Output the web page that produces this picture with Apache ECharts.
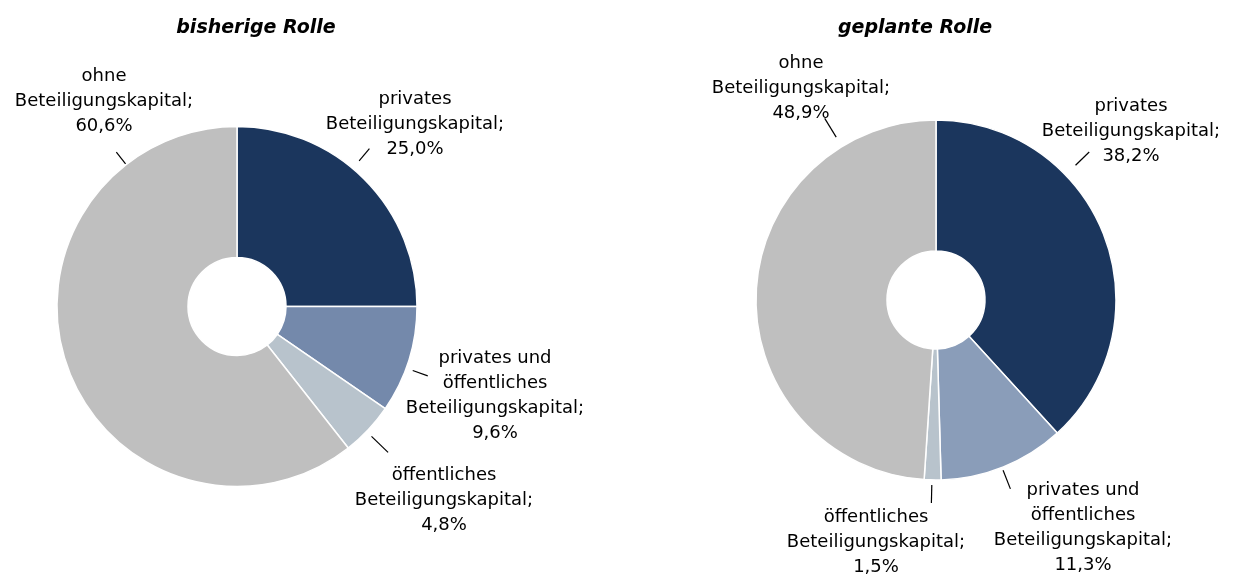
<!DOCTYPE html>
<html>
<head>
<meta charset="utf-8">
<script src="https://cdn.jsdelivr.net/npm/echarts@6/dist/echarts.min.js"></script>
<style>
  html, body { margin: 0; padding: 0; background: #fff; }
  #chart { width: 1236px; height: 576px; }
</style>
</head>
<body>
<div id="chart"></div>
<script>
// categories (same order in both rings, clockwise from 12 o'clock)
var categories = [
	'privates\nBeteiligungskapital',
	'privates und\nöffentliches\nBeteiligungskapital',
	'öffentliches\nBeteiligungskapital',
	'ohne\nBeteiligungskapital'
];
var bisherigeValues = [25.0, 9.6, 4.8, 60.6];
var geplanteValues = [38.2, 11.3, 1.5, 48.9];

var leftColors = ['#1b365d', '#7489ab', '#b8c3cc', '#bfbfbf'];
var rightColors = ['#1b365d', '#8a9db9', '#b8c3cc', '#bfbfbf'];

var FONT = '"DejaVu Sans", "Liberation Sans", Arial, sans-serif';

// label placement: [x, y, leader angle (deg, clockwise from top), leader start r, leader end r]
var leftPie = {
	cx: 237, cy: 306.5, r: 180,
	labels: [
		[415, 124, 40, 190, 206],
		[495, 396, 110, 187, 203],
		[444, 500, 134, 187, 210],
		[104, 101, 322, 181, 196]
	]
};
var rightPie = {
	cx: 936, cy: 300, r: 180,
	labels: [
		[1131, 131, 46, 194, 213],
		[1083, 528, 158.5, 183, 203],
		[876, 542, 181.3, 185, 203],
		[801, 88, 328.5, 191, 213]
	]
};

function placeLabel(pie, idx) {
	var l = pie.labels[idx];
	var a = l[2] * Math.PI / 180;
	var p1 = [pie.cx + l[3] * Math.sin(a), pie.cy - l[3] * Math.cos(a)];
	var p2 = [pie.cx + l[4] * Math.sin(a), pie.cy - l[4] * Math.cos(a)];
	return {
		x: l[0],
		y: l[1],
		align: 'center',
		verticalAlign: 'middle',
		labelLinePoints: [p1, p2, p2]
	};
}

function fmt(params) {
	return params.name + ';\n' + params.value.toFixed(1).replace('.', ',') + '%';
}

function makeSeries(values, colors, pie) {
	return {
		type: 'pie',
		center: [pie.cx, pie.cy],
		radius: [49, pie.r],
		startAngle: 90,
		clockwise: true,
		avoidLabelOverlap: false,
		animation: false,
		silent: true,
		itemStyle: {
			borderColor: '#fff',
			borderWidth: 1.5
		},
		label: {
			show: true,
			position: 'outside',
			formatter: fmt,
			color: '#000',
			fontFamily: FONT,
			fontSize: 18,
			lineHeight: 25,
			align: 'center'
		},
		labelLine: {
			show: true,
			length: 10,
			length2: 0,
			lineStyle: { color: '#000', width: 1.2 }
		},
		labelLayout: function (params) {
			return placeLabel(pie, params.dataIndex);
		},
		data: categories.map(function (name, i) {
			return { name: name, value: values[i], itemStyle: { color: colors[i] } };
		})
	};
}

var myChart = echarts.init(document.getElementById('chart'));
var option = {
	backgroundColor: '#fff',
	animation: false,
	graphic: [
		{
			type: 'text', x: 256, y: 28,
			style: {
				text: 'bisherige Rolle',
				textAlign: 'center', textVerticalAlign: 'middle',
				font: 'italic bold 19px ' + FONT, fill: '#000'
			}
		},
		{
			type: 'text', x: 915, y: 28,
			style: {
				text: 'geplante Rolle',
				textAlign: 'center', textVerticalAlign: 'middle',
				font: 'italic bold 19px ' + FONT, fill: '#000'
			}
		}
	],
	series: [
		makeSeries(bisherigeValues, leftColors, leftPie),
		makeSeries(geplanteValues, rightColors, rightPie)
	]
};
myChart.setOption(option, true);
</script>
</body>
</html>
